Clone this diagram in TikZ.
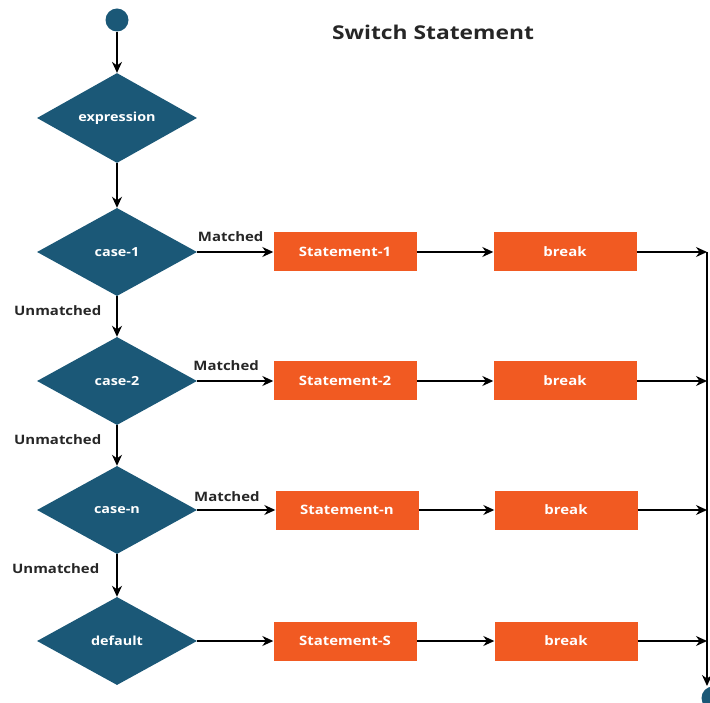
\documentclass[tikz,border=0pt]{standalone}
\usepackage{fontspec}
\setmainfont{Open Sans}
\newfontfamily\wf[FakeStretch=1.15]{Open Sans}
\newfontfamily\wft[FakeStretch=1.2]{Open Sans}
\usetikzlibrary{shapes.geometric,arrows.meta}
\definecolor{dteal}{HTML}{1B5877}
\definecolor{dorange}{HTML}{F15A22}
\begin{document}
\begin{tikzpicture}[x=1pt,y=-1pt,
  dec/.style={diamond,fill=dteal,text=white,minimum width=160pt,minimum height=88pt,inner sep=0pt,font=\wf\bfseries\fontsize{12.5}{14}\selectfont},
  sbox/.style={rectangle,fill=dorange,text=white,minimum width=143pt,minimum height=39pt,inner sep=0pt,font=\wf\bfseries\fontsize{13}{15}\selectfont},
  dot/.style={circle,fill=dteal,minimum size=23pt,inner sep=0pt},
  lbl/.style={font=\wf\bfseries\fontsize{13}{15}\selectfont,text=black!85,inner sep=1pt},
  conn/.style={draw=black,line width=1.4pt,-{Stealth[length=11pt,width=10pt]}},
  plain/.style={draw=black,line width=1.4pt}]
\useasboundingbox (0,0) rectangle (710,703);
\clip (0,0) rectangle (710,703);
\node[font=\wft\bfseries\fontsize{19}{22}\selectfont,text=black!85] (title) at (433,32) {Switch Statement};
\node[dot] (start) at (117,20) {};
\node[dec] (expr) at (117,118) {expression};
\node[dec] (c1) at (117,252) {case-1};
\node[dec] (c2) at (117,381) {case-2};
\node[dec] (cn) at (117,510) {case-n};
\node[dec] (def) at (117,641) {default};
\node[sbox] (s1) at (345,252) {Statement-1};
\node[sbox] (s2) at (345,381) {Statement-2};
\node[sbox] (sn) at (347,510) {Statement-n};
\node[sbox] (ss) at (345,641) {Statement-S};
\node[sbox] (b1) at (565,252) {break};
\node[sbox] (b2) at (565,381) {break};
\node[sbox] (bn) at (566,510) {break};
\node[sbox] (bs) at (566,641) {break};
\node[dot] (stop) at (713,698) {};
\coordinate (j1) at (707,252);
\coordinate (j2) at (707,381);
\coordinate (jn) at (707,510);
\coordinate (js) at (707,641);
\coordinate (je) at (707,686);
\draw[conn] (start) -- (expr);
\draw[conn] (expr) -- (c1);
\draw[conn] (c1) -- node[lbl,pos=0.35,left=14pt] {Unmatched} (c2);
\draw[conn] (c2) -- node[lbl,pos=0.35,left=14pt] {Unmatched} (cn);
\draw[conn] (cn) -- node[lbl,pos=0.35,left=16pt] {Unmatched} (def);
\draw[conn] (c1.east) -- node[lbl,pos=0.44,above=9pt] {Matched} (s1);
\draw[conn] (c2.east) -- node[lbl,pos=0.38,above=9pt] {Matched} (s2);
\draw[conn] (cn.east) -- node[lbl,pos=0.38,above=7pt] {Matched} (sn);
\draw[conn] (def.east) -- (ss);
\draw[conn] (s1) -- (b1);
\draw[conn] (s2) -- (b2);
\draw[conn] (sn) -- (bn);
\draw[conn] (ss) -- (bs);
\draw[conn] (b1) -- (j1);
\draw[conn] (b2) -- (j2);
\draw[conn] (bn) -- (jn);
\draw[conn] (bs) -- (js);
\draw[plain] (j1) -- (js);
\draw[conn] (js) -- (je);
\end{tikzpicture}
\end{document}
